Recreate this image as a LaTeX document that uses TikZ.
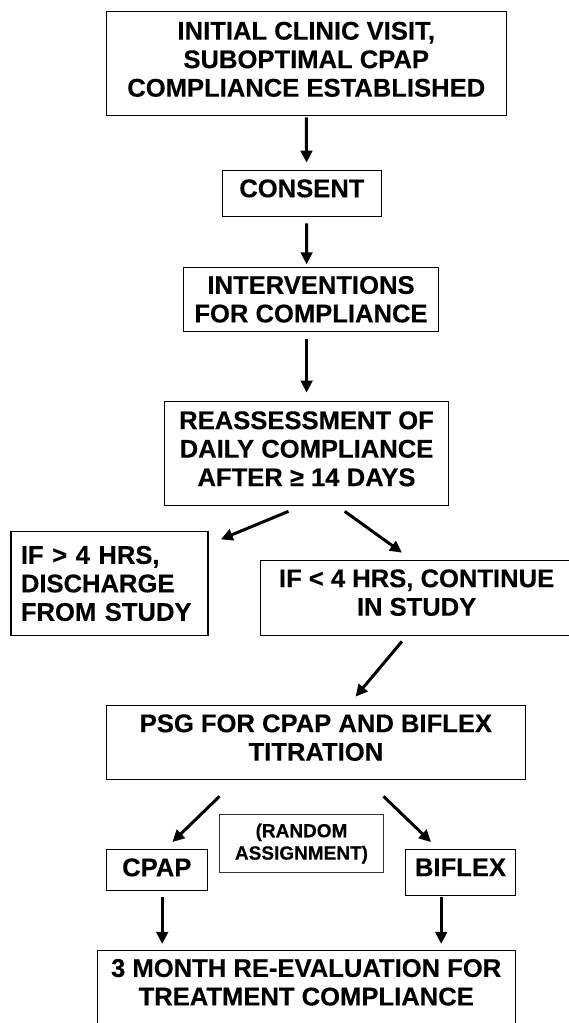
\documentclass[tikz,border=0pt]{standalone}
\usepackage{fontspec}
\setmainfont[BoldFeatures={FakeBold=0.3}]{Liberation Sans}
\usetikzlibrary{arrows.meta}

\begin{document}
\begin{tikzpicture}[x=1pt,y=-1pt,
    box/.style={draw,line width=1.3pt,inner sep=0pt,align=center,
        font=\bfseries\fontsize{25.6}{28.5}\selectfont},
    arr/.style={line width=3pt,-{Triangle[length=12pt,width=11.5pt]}}]
    \useasboundingbox (0,0) rectangle (569,1023);
    % boxes
    \node[box,minimum width=400pt,minimum height=103.6pt,text depth=8.6pt] (visit) at (306.25,63.5)
        {INITIAL CLINIC VISIT,\\SUBOPTIMAL CPAP\\COMPLIANCE ESTABLISHED};
    \node[box,minimum width=159pt,minimum height=46pt,text depth=10pt] (consent) at (301.9,193.3) {CONSENT};
    \node[box,minimum width=255.5pt,minimum height=64pt] (interv) at (311,299.3)
        {INTERVENTIONS\\FOR COMPLIANCE};
    \node[box,minimum width=284pt,minimum height=103.6pt,text depth=9.6pt] (assess) at (306.5,453.5)
        {REASSESSMENT OF\\DAILY COMPLIANCE\\AFTER ≥ 14 DAYS};
    \node[box,minimum width=197pt,minimum height=103.6pt,text width=177pt,align=left] (discharge) at (109.4,583.5)
        {IF > 4 HRS,\\DISCHARGE\\FROM STUDY};
    \node[box,minimum width=312.8pt,minimum height=74.6pt,text depth=11pt] (cont) at (416.6,598)
        {IF < 4 HRS, CONTINUE\\IN STUDY};
    \node[box,minimum width=419pt,minimum height=74pt,text depth=9.6pt] (psg) at (315.9,742.3)
        {PSG FOR CPAP AND BIFLEX\\TITRATION};
    \node[box,draw=black!80,line width=1pt,minimum width=163.3pt,minimum height=57.6pt,
        font=\bfseries\fontsize{19}{22.3}\selectfont] (random) at (301.5,843.5)
        {(RANDOM\\ASSIGNMENT)};
    \node[box,minimum width=101pt,minimum height=41pt,text depth=5pt] (cpap) at (156.8,869.8) {CPAP};
    \node[box,minimum width=110.3pt,minimum height=46pt,text depth=10pt] (biflex) at (460.5,872.3) {BIFLEX};
    \node[box,minimum width=418pt,minimum height=76pt,text depth=13pt] (reeval) at (306.2,988.7)
        {3 MONTH RE-EVALUATION FOR\\TREATMENT COMPLIANCE};
    % arrows
    \draw[arr] ([yshift=-1.4pt]visit.south) -- ([xshift=4.7pt,yshift=7pt]consent.north);
    \draw[arr] ([xshift=4.7pt,yshift=-6.4pt]consent.south) -- ([xshift=-4.4pt,yshift=2.3pt]interv.north);
    \draw[arr] ([xshift=-4.4pt,yshift=-7pt]interv.south) -- ([xshift=0.1pt,yshift=8.4pt]assess.north);
    \draw[arr] ([xshift=-18pt,yshift=-5.4pt]assess.south) -- ([xshift=12.3pt,yshift=-8.3pt]discharge.north east);
    \draw[arr] ([xshift=38.2pt,yshift=-5.4pt]assess.south) -- ([xshift=-14.6pt,yshift=7.4pt]cont.north);
    \draw[arr] ([xshift=-14.6pt,yshift=-5.4pt]cont.south) -- ([xshift=39.7pt,yshift=8pt]psg.north);
    \draw[arr] ([xshift=-96.4pt,yshift=-16.4pt]psg.south) -- ([xshift=15.6pt,yshift=6.6pt]cpap.north);
    \draw[arr] ([xshift=67.6pt,yshift=-16.4pt]psg.south) -- ([xshift=-29.5pt,yshift=6.6pt]biflex.north);
    \draw[arr] ([xshift=5.4pt,yshift=-6.4pt]cpap.south) -- ([xshift=5.4pt,yshift=-53pt]cpap.south);
    \draw[arr] ([xshift=-19.3pt,yshift=-1.4pt]biflex.south) -- ([xshift=-19.3pt,yshift=-48pt]biflex.south);
\end{tikzpicture}
\end{document}
